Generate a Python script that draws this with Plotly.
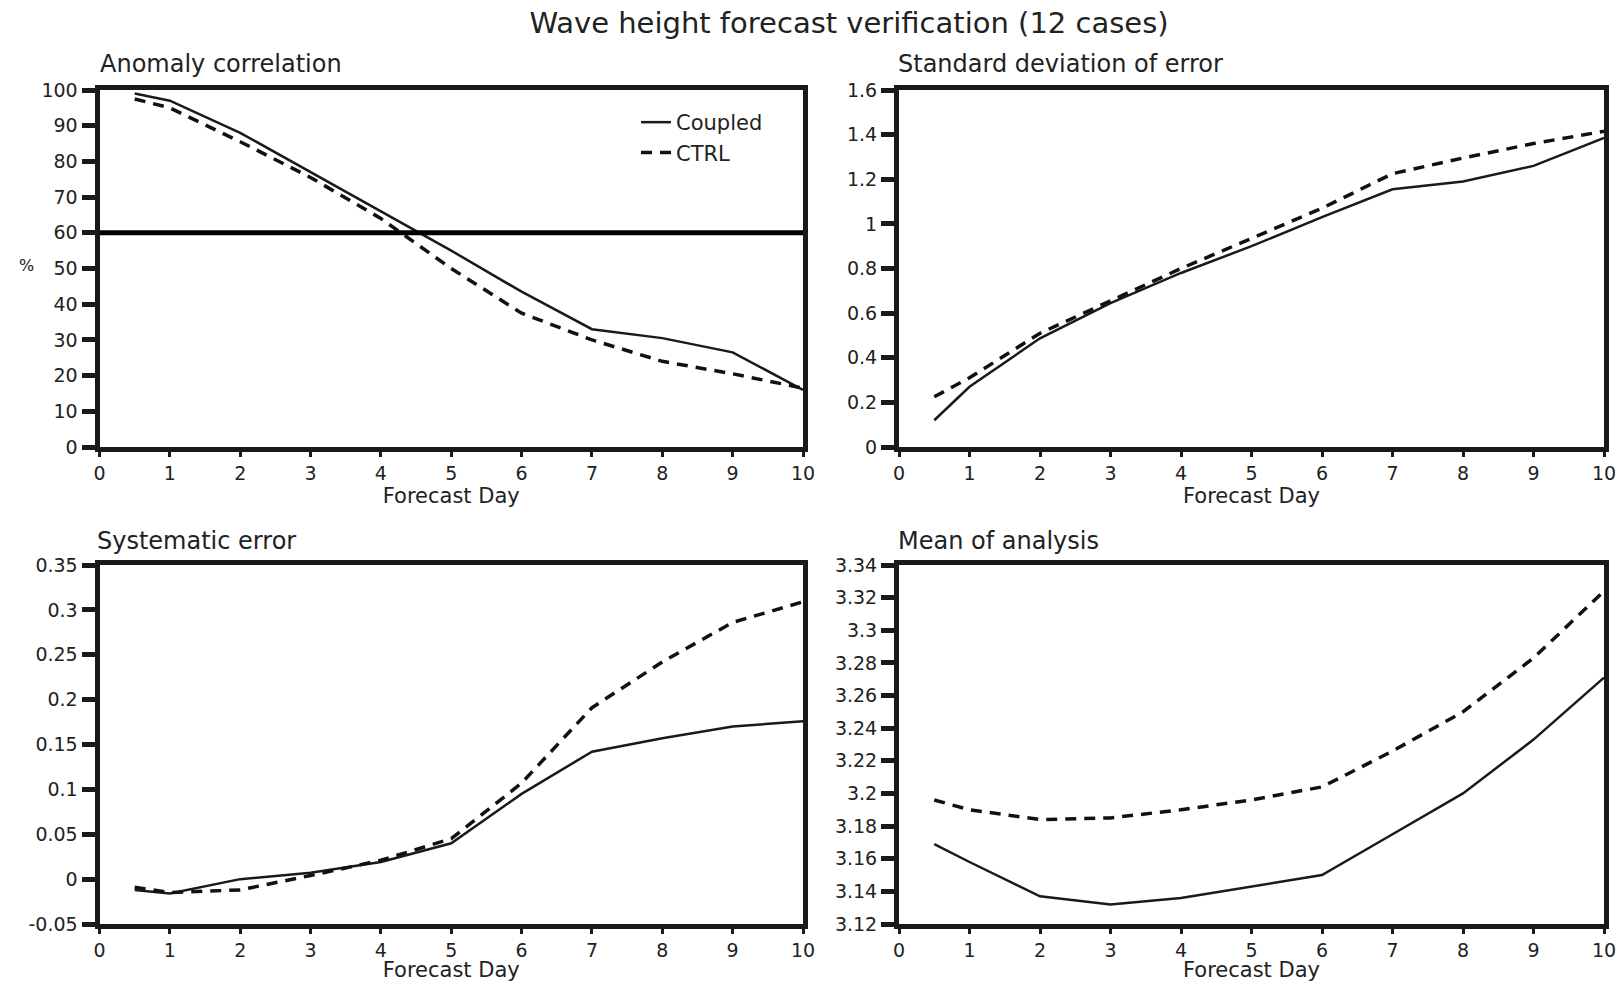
import plotly.graph_objects as go

# ---------------- data ----------------
days = [0.5, 1, 2, 3, 4, 5, 6, 7, 8, 9, 10]

ac_coupled = [99, 97, 88, 77, 66, 55, 43.5, 33, 30.5, 26.5, 16]
ac_ctrl = [97.5, 95, 85.5, 75.5, 64, 50, 37.5, 30, 24, 20.5, 16.5]

sd_coupled = [0.12, 0.27, 0.487, 0.645, 0.78, 0.90, 1.03, 1.155, 1.19, 1.26, 1.385]
sd_ctrl = [0.225, 0.31, 0.51, 0.655, 0.80, 0.935, 1.07, 1.225, 1.295, 1.36, 1.415]

se_coupled = [-0.012, -0.016, 0.0, 0.007, 0.019, 0.04, 0.095, 0.142, 0.157, 0.170, 0.176]
se_ctrl = [-0.009, -0.015, -0.012, 0.004, 0.021, 0.045, 0.107, 0.191, 0.242, 0.286, 0.309]

ma_coupled = [3.169, 3.158, 3.137, 3.132, 3.136, 3.143, 3.150, 3.175, 3.200, 3.233, 3.271]
ma_ctrl = [3.196, 3.190, 3.184, 3.185, 3.190, 3.196, 3.204, 3.226, 3.250, 3.283, 3.324]

ac_threshold = 60

x_ticks = list(range(0, 11))
x_ticktext = [str(v) for v in x_ticks]

ac_ticks = [0, 10, 20, 30, 40, 50, 60, 70, 80, 90, 100]
ac_ticktext = ["0", "10", "20", "30", "40", "50", "60", "70", "80", "90", "100"]
sd_ticks = [0, 0.2, 0.4, 0.6, 0.8, 1.0, 1.2, 1.4, 1.6]
sd_ticktext = ["0", "0.2", "0.4", "0.6", "0.8", "1", "1.2", "1.4", "1.6"]
se_ticks = [-0.05, 0, 0.05, 0.1, 0.15, 0.2, 0.25, 0.3, 0.35]
se_ticktext = ["-0.05", "0", "0.05", "0.1", "0.15", "0.2", "0.25", "0.3", "0.35"]
ma_ticks = [3.12, 3.14, 3.16, 3.18, 3.2, 3.22, 3.24, 3.26, 3.28, 3.3, 3.32, 3.34]
ma_ticktext = ["3.12", "3.14", "3.16", "3.18", "3.2", "3.22", "3.24", "3.26", "3.28", "3.3", "3.32", "3.34"]

series_names = ["Coupled", "CTRL"]
main_title = "Wave height forecast verification (12 cases)"
panel_titles = ["Anomaly correlation", "Standard deviation of error",
                "Systematic error", "Mean of analysis"]
x_title = "Forecast Day"
y_title_ac = "%"

# ---------------- layout helpers ----------------
W, H = 1619, 982
FONT = "DejaVu Sans, Liberation Sans, Arial, sans-serif"


def px_x(p):
    return p / W


def px_y(p):
    return 1 - p / H


dom_x_left = [px_x(99.5), px_x(803)]
dom_x_right = [px_x(899), px_x(1604)]
dom_y_top = [px_y(447), px_y(90)]
dom_y_bot = [px_y(924), px_y(565)]

solid = dict(color="#1a1a1a", width=2.5)
dashed = dict(color="#111111", width=3.5, dash="11px,8px")

fig = go.Figure()

panels = [
    ("x", "y", ac_coupled, ac_ctrl),
    ("x2", "y2", sd_coupled, sd_ctrl),
    ("x3", "y3", se_coupled, se_ctrl),
    ("x4", "y4", ma_coupled, ma_ctrl),
]
for i, (xa, ya, c, k) in enumerate(panels):
    fig.add_trace(go.Scatter(x=days, y=c, mode="lines", line=solid, name=series_names[0],
                             xaxis=xa, yaxis=ya, showlegend=(i == 0)))
    fig.add_trace(go.Scatter(x=days, y=k, mode="lines", line=dashed, name=series_names[1],
                             xaxis=xa, yaxis=ya, showlegend=(i == 0)))


def xaxis(domain, anchor):
    return dict(domain=domain, anchor=anchor, range=[0, 10], tickvals=x_ticks, ticktext=x_ticktext,
                showline=True, mirror=True, linewidth=5, linecolor="#1a1a1a",
                ticks="outside", ticklen=5, tickwidth=3, tickcolor="#1a1a1a",
                showgrid=False, zeroline=False, automargin=False,
                tickfont=dict(family=FONT, size=19, color="#222"),
                title=dict(text=x_title, font=dict(family=FONT, size=21, color="#222"), standoff=0))


def yaxis(domain, anchor, rng, tv, tt):
    return dict(domain=domain, anchor=anchor, range=rng, tickvals=tv, ticktext=tt,
                showline=True, mirror=True, linewidth=5, linecolor="#1a1a1a",
                ticks="outside", ticklen=13, tickwidth=5, tickcolor="#1a1a1a",
                showgrid=False, zeroline=False, automargin=False,
                tickfont=dict(family=FONT, size=19, color="#222"))


fig.update_layout(
    width=W, height=H,
    margin=dict(l=0, r=0, t=0, b=0),
    paper_bgcolor="white", plot_bgcolor="white",
    font=dict(family=FONT, color="#222"),
    xaxis=xaxis(dom_x_left, "y"),
    yaxis=yaxis(dom_y_top, "x", [0, 100], ac_ticks, ac_ticktext),
    xaxis2=xaxis(dom_x_right, "y2"),
    yaxis2=yaxis(dom_y_top, "x2", [0, 1.6], sd_ticks, sd_ticktext),
    xaxis3=xaxis(dom_x_left, "y3"),
    yaxis3=yaxis(dom_y_bot, "x3", [-0.05, 0.35], se_ticks, se_ticktext),
    xaxis4=xaxis(dom_x_right, "y4"),
    yaxis4=yaxis(dom_y_bot, "x4", [3.12, 3.34], ma_ticks, ma_ticktext),
    title=dict(text=main_title, x=px_x(849), y=px_y(23), xanchor="center", yanchor="middle",
               font=dict(family=FONT, size=29, color="#222")),
    legend=dict(x=px_x(636), y=px_y(102), xanchor="left", yanchor="top",
                bgcolor="rgba(0,0,0,0)", borderwidth=0, tracegroupgap=0,
                font=dict(family=FONT, size=21, color="#222")),
    showlegend=True,
)

fig.add_shape(type="line", xref="x", yref="y", x0=0, x1=10, y0=ac_threshold, y1=ac_threshold,
              line=dict(color="black", width=5))

title_pos = [(98, 64), (896, 64), (95, 541), (896, 541)]
for t, (px, py) in zip(panel_titles, title_pos):
    fig.add_annotation(text=t, xref="paper", yref="paper", x=px_x(px), y=px_y(py),
                       xanchor="left", yanchor="middle", showarrow=False,
                       font=dict(family=FONT, size=24, color="#222"))

fig.add_annotation(text=y_title_ac, xref="paper", yref="paper", x=px_x(26), y=px_y(266),
                   xanchor="center", yanchor="middle", showarrow=False,
                   font=dict(family=FONT, size=16, color="#222"))

fig.write_html("out.html")
